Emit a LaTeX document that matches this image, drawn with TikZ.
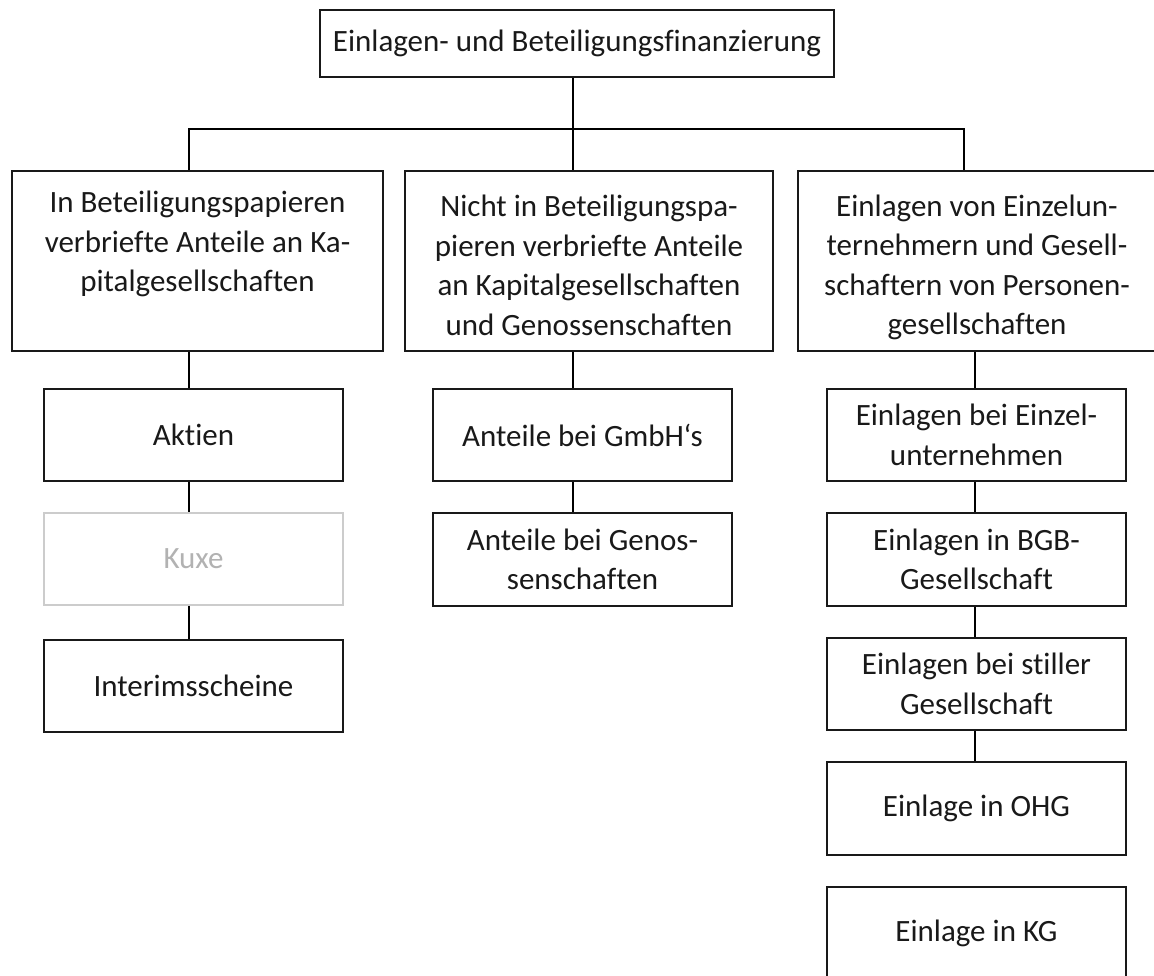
\documentclass[tikz,border=0pt]{standalone}
\usepackage{fontspec}
\setmainfont{Carlito}[Ligatures={NoCommon}]
\newcommand\tallrule[1]{\rule{0pt}{#1}}
\begin{document}
\begin{tikzpicture}[x=1pt,y=-1pt,
  box/.style={draw=black!90, line width=1.6pt, rectangle, inner sep=0pt, align=center,
    font=\fontsize{31}{39.5}\selectfont, text=black!90},
  grey box/.style={box, draw=black!20, text=black!30},
  bus/.style={draw=black, line width=2pt},
  conn/.style={draw=black, line width=1.5pt}]
\useasboundingbox (0,0) rectangle (1154,976);
\clip (0,0) rectangle (1154,976);
\fill[white] (0,0) rectangle (1154,976);

\coordinate (cL) at (189,0);
\coordinate (cM) at (573,0);
\coordinate (cR) at (964,0);
\coordinate (cR2) at (975,0);
\coordinate (bus) at (0,129);

\node[box, minimum width=514pt, minimum height=67pt] (top) at (577,43.5) {Einlagen- und Beteiligungsfinanzierung};

\node[box, minimum width=371pt, minimum height=180pt] (b1) at (197.5,261) {In Beteiligungspapieren\\verbriefte Anteile an Ka-\\pitalgesellschaften\\\mbox{}};
\node[box, minimum width=368pt, minimum height=180pt] (b2) at (589,261) {\tallrule{30pt}Nicht in Beteiligungspa-\\pieren verbriefte Anteile\\an Kapitalgesellschaften\\und Genossenschaften};
\node[box, minimum width=358pt, minimum height=180pt] (b3) at (977,261) {\tallrule{34pt}Einlagen von Einzelun-\\ternehmern und Gesell-\\schaftern von Personen-\\gesellschaften};

\node[box, minimum width=299pt, minimum height=92pt] (aktien) at (193.5,435) {Aktien};
\node[grey box, minimum width=299pt, minimum height=92pt] (kuxe) at (193.5,559) {Kuxe};
\node[box, minimum width=299pt, minimum height=92pt] (interim) at (193.5,686) {Interimsscheine};

\node[box, minimum width=299pt, minimum height=92pt] (gmbh) at (582.5,435) {Anteile bei GmbH‘s};
\node[box, minimum width=299pt, minimum height=93pt] (genos) at (582.5,559.5) {Anteile bei Genos-\\senschaften};

\node[box, minimum width=299pt, minimum height=92pt] (einzel) at (976.5,435) {Einlagen bei Einzel-\\unternehmen};
\node[box, minimum width=299pt, minimum height=93pt] (bgb) at (976.5,559.5) {Einlagen in BGB-\\Gesellschaft};
\node[box, minimum width=299pt, minimum height=92pt] (still) at (976.5,684) {Einlagen bei stiller\\Gesellschaft};
\node[box, minimum width=299pt, minimum height=93pt] (ohg) at (976.5,808.5) {Einlage in OHG};
\node[box, minimum width=299pt, minimum height=92pt] (kg) at (976.5,933) {Einlage in KG};

\draw[bus] (top.south -| cM) -- (b2.north -| cM);
\draw[bus] (b1.north -| cL) |- (bus -| cR) -- (b3.north -| cR);

\draw[conn] (b1.south -| cL) -- (aktien.north -| cL);
\draw[conn] (aktien.south -| cL) -- (kuxe.north -| cL);
\draw[conn] (kuxe.south -| cL) -- (interim.north -| cL);

\draw[conn] (b2.south -| cM) -- (gmbh.north -| cM);
\draw[conn] (gmbh.south -| cM) -- (genos.north -| cM);

\draw[conn] (b3.south -| cR2) -- (einzel.north -| cR2);
\draw[conn] (einzel.south -| cR2) -- (bgb.north -| cR2);
\draw[conn] (bgb.south -| cR2) -- (still.north -| cR2);
\draw[conn] (still.south -| cR2) -- (ohg.north -| cR2);
\end{tikzpicture}
\end{document}
